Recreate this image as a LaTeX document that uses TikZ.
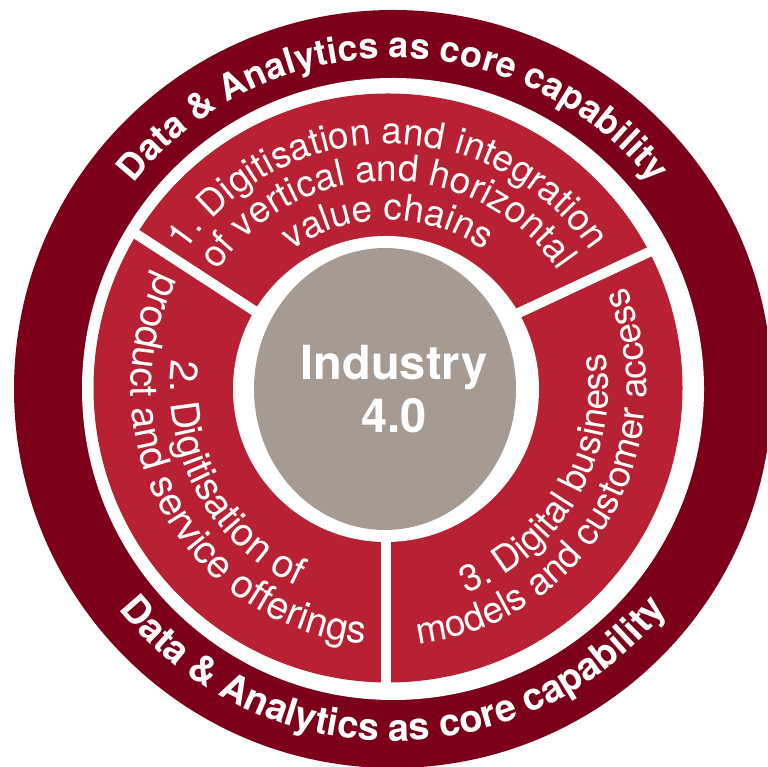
\documentclass[tikz,border=0pt]{standalone}
\usepackage{fontspec}
\setmainfont{TeX Gyre Heros}
\usetikzlibrary{decorations.text}
\definecolor{ringdark}{RGB}{124,0,26}
\definecolor{segred}{RGB}{184,33,51}
\definecolor{coregray}{RGB}{166,155,147}
\newcommand\ringfonttop{\fontsize{36}{36}\selectfont\bfseries}
\newcommand\ringfontbot{\fontsize{38}{38}\selectfont\bfseries}
\newcommand\segfont{\fontsize{37}{37}\selectfont}
\newcommand\segfontb{\fontsize{39}{39}\selectfont}
\tikzset{
  divider/.style={draw=white, line width=10pt},
  coretext/.style={text=white, inner sep=0pt, font=\fontsize{47}{47}\selectfont\bfseries},
  curved/.style={decorate, decoration={text along path, text color=white, text align=center, text={#1}}}
}
\begin{document}
\begin{tikzpicture}[x=1pt,y=1pt]
\clip (0,0) rectangle (767,767);
\fill[white] (0,0) rectangle (767,767);
\coordinate (cO) at (393,378);
\coordinate (cR) at (388,379);
\coordinate (cW) at (386,378);
\coordinate (cG) at (385,378);
% outer ring
\fill[ringdark] (cO) circle[radius=379];
\fill[white] (cO) circle[radius=311];
% red segments
\fill[segred] (cR) circle[radius=294.5];
\coordinate (dLa) at (270,446);
\coordinate (dLb) at (130,537);
\coordinate (dRa) at (510,450);
\coordinate (dRb) at (662,521);
\coordinate (dBa) at (386,235);
\coordinate (dBb) at (386,70);
\draw[divider] (dLa) -- (dLb);
\draw[divider] (dRa) -- (dRb);
\draw[divider] (dBa) -- (dBb);
% core
\fill[white] (cW) circle[radius=153];
\fill[coregray] (cG) ellipse[x radius=131, y radius=141];
\node[coretext, anchor=base] (ind1) at (394,387) {Industry};
\node[coretext, anchor=base] (ind2) at (394,334) {4.0};
% outer ring texts
\path[curved={|\ringfonttop|Data {\&} Analytics as core capability}]
  (cO) ++(180:331) arc[start angle=180, end angle=0, radius=331];
\path[curved={|\ringfontbot|Data {\&} Analytics as core capability}]
  (cO) ++(180:352) arc[start angle=180, end angle=360, radius=352];
% segment 1
\path[curved={|\segfont|1. Digitisation and integration}]
  (cR) ++(180:244) arc[start angle=180, end angle=0, radius=244];
\path[curved={|\segfont|of vertical and horizontal}]
  (cR) ++(180:207) arc[start angle=180, end angle=0, radius=207];
\path[curved={|\segfont|value chains}]
  (cR) ++(180:168) arc[start angle=180, end angle=0, radius=168];
% segment 2
\path[curved={|\segfontb|2. Digitisation of}]
  (cR) ++(89:218) arc[start angle=89, end angle=329, radius=218];
\path[curved={|\segfontb|product and service offerings}]
  (cR) ++(89:257) arc[start angle=89, end angle=329, radius=257];
% segment 3
\path[curved={|\segfont|3. Digital business}]
  (cR) ++(210:220) arc[start angle=210, end angle=450, radius=220];
\path[curved={|\segfont|models and customer access}]
  (cR) ++(210:258) arc[start angle=210, end angle=450, radius=258];
\end{tikzpicture}
\end{document}
